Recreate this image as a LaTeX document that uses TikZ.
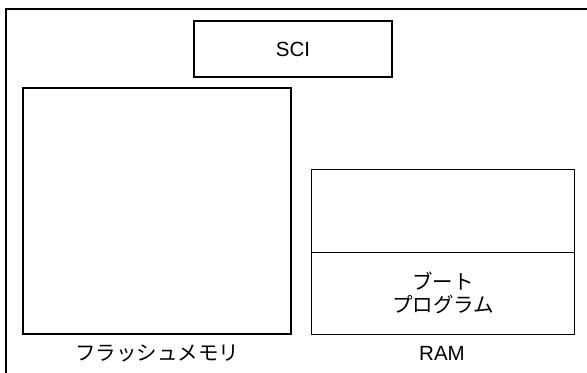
\documentclass[tikz,border=0pt]{standalone}
\usepackage{fontspec}
\setmainfont{Liberation Sans}
\newfontfamily\jp{Noto Sans CJK JP}
\begin{document}
\begin{tikzpicture}[x=1bp,y=-1bp,
  box/.style={draw=black,line width=1.1bp},
  lbl/.style={font=\fontsize{20.5bp}{24bp}\selectfont,inner sep=0pt,align=center},
  jlbl/.style={font=\jp\fontsize{20.5bp}{23bp}\selectfont,inner sep=0pt,align=center}]
\useasboundingbox (0,0) rectangle (587,372);
\begin{scope}
\clip (0,0) rectangle (587,372);
\draw[box] (6,9) rectangle (600,390);
\end{scope}
\node[box,minimum width=198bp,minimum height=56bp,inner sep=0pt] (sci) at (293,49) {};
\node[lbl] (scit) at (sci.center) {SCI};
\node[box,minimum width=268bp,minimum height=246bp,inner sep=0pt] (flash) at (157,211) {};
\node[box,minimum width=263bp,minimum height=83bp,inner sep=0pt,anchor=north west] (ramtop) at (311,169) {};
\node[box,minimum width=263bp,minimum height=82bp,inner sep=0pt,anchor=north west] (boot) at (311,252) {};
\node[jlbl] (boott) at (443,293) {ブート\\プログラム};
\node[jlbl] (flasht) at (157,353) {フラッシュメモリ};
\node[lbl] (ramt) at (442,353) {RAM};
\end{tikzpicture}
\end{document}
